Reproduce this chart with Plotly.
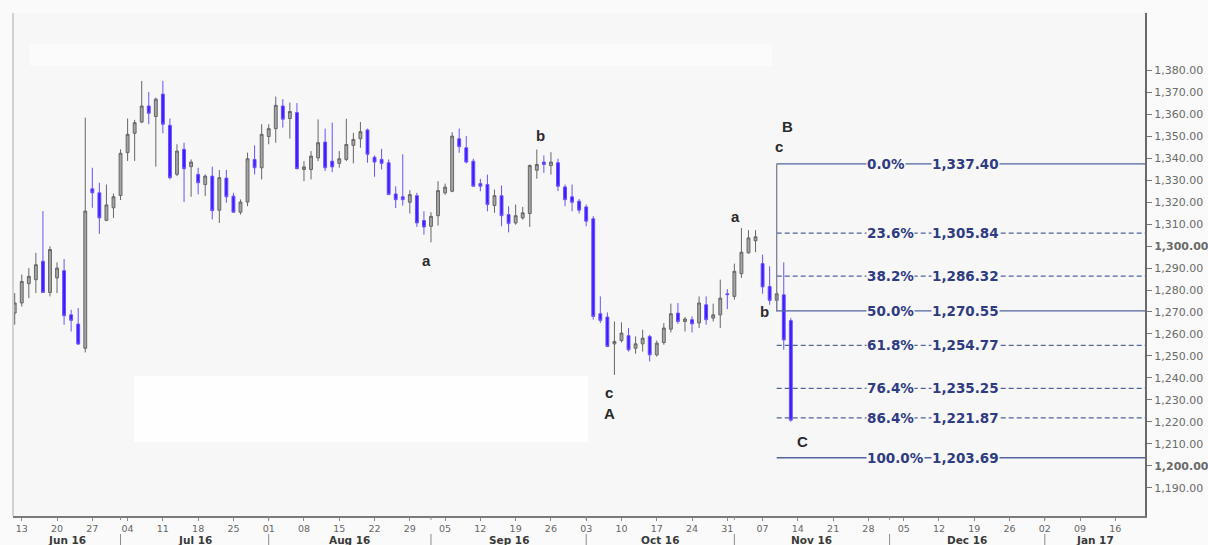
import math
import pandas as pd
import plotly.graph_objects as go

# ---------------- data ----------------
START = "2016-06-10"
opens = [1269.5, 1274.1, 1282.9, 1284.7, 1293.1, 1278.9, 1285.5, 1288.8, 1268.7, 1264.5,
         1253.5, 1326.0, 1324.2, 1311.7, 1317.4, 1323.0, 1342.5, 1351.3, 1356.4, 1363.7,
         1358.9, 1369.1, 1354.9, 1332.6, 1344.0, 1336.1, 1332.6, 1328.0, 1331.8, 1316.3,
         1330.9, 1322.7, 1315.4, 1320.0, 1339.4, 1335.6, 1349.8, 1353.4, 1363.7, 1358.0,
         1360.7, 1334.8, 1334.8, 1340.1, 1347.3, 1338.6, 1337.6, 1339.4, 1345.8, 1348.8,
         1352.8, 1340.4, 1339.4, 1337.9, 1323.7, 1322.4, 1319.9, 1322.9, 1311.6, 1309.0,
         1313.8, 1324.2, 1324.9, 1348.8, 1344.7, 1338.6, 1328.4, 1328.0, 1318.4, 1322.9,
         1314.3, 1310.5, 1312.8, 1314.8, 1334.5, 1338.2, 1336.6, 1337.9, 1326.9, 1322.4,
         1320.4, 1317.8, 1312.4, 1269.2, 1267.7, 1255.5, 1257.0, 1259.2, 1253.5, 1255.5,
         1258.9, 1250.5, 1256.1, 1262.2, 1269.5, 1265.7, 1266.5, 1265.0, 1273.3, 1267.2,
         1268.7, 1278.3, 1277.1, 1287.4, 1296.9, 1302.4, 1292.0, 1281.6, 1275.3, 1277.8,
         1266.1]
highs = [1278.6, 1287.0, 1290.0, 1296.9, 1315.9, 1299.9, 1292.6, 1294.1, 1271.0, 1271.8,
         1358.4, 1335.6, 1328.8, 1328.0, 1323.9, 1344.0, 1358.0, 1357.4, 1375.1, 1370.1,
         1367.5, 1375.1, 1358.0, 1346.3, 1347.0, 1339.4, 1335.6, 1332.6, 1336.1, 1334.6,
         1334.6, 1324.2, 1321.2, 1342.5, 1345.8, 1355.4, 1355.4, 1368.0, 1366.8, 1365.3,
         1365.0, 1338.6, 1343.2, 1357.6, 1353.4, 1356.1, 1343.2, 1357.9, 1351.5, 1356.4,
         1353.4, 1341.2, 1344.2, 1339.4, 1327.2, 1341.7, 1325.4, 1324.2, 1315.8, 1315.4,
         1329.5, 1328.4, 1351.8, 1353.4, 1350.0, 1339.7, 1330.6, 1332.5, 1325.7, 1327.5,
         1318.1, 1318.9, 1317.8, 1337.1, 1343.9, 1341.2, 1342.7, 1339.7, 1328.0, 1328.0,
         1321.4, 1318.9, 1313.6, 1277.1, 1269.8, 1265.7, 1265.3, 1262.7, 1258.9, 1261.9,
         1259.6, 1257.0, 1264.9, 1273.8, 1274.1, 1267.7, 1268.0, 1277.1, 1277.1, 1273.8,
         1284.7, 1280.4, 1292.0, 1308.2, 1307.2, 1307.2, 1296.1, 1290.8, 1279.4, 1292.6,
         1267.2]
lows = [1264.2, 1272.5, 1276.3, 1278.6, 1278.6, 1277.1, 1278.6, 1264.2, 1261.1, 1255.1,
        1251.6, 1317.4, 1305.5, 1311.3, 1312.8, 1320.9, 1338.7, 1338.7, 1355.9, 1355.4,
        1336.1, 1351.3, 1330.3, 1331.8, 1320.0, 1322.4, 1323.5, 1322.7, 1312.1, 1310.5,
        1319.7, 1315.1, 1314.3, 1318.1, 1332.6, 1330.3, 1346.3, 1347.0, 1353.9, 1348.9,
        1334.9, 1329.5, 1330.3, 1338.6, 1334.1, 1333.6, 1335.6, 1338.6, 1337.6, 1344.7,
        1337.9, 1331.5, 1334.8, 1323.4, 1317.3, 1318.4, 1314.8, 1308.7, 1305.2, 1301.7,
        1309.3, 1323.4, 1324.5, 1342.4, 1337.6, 1327.2, 1324.9, 1315.8, 1315.1, 1309.0,
        1306.2, 1309.7, 1312.0, 1308.7, 1330.6, 1333.3, 1332.5, 1325.0, 1318.1, 1315.8,
        1314.8, 1309.0, 1266.5, 1265.0, 1254.0, 1241.4, 1256.1, 1252.0, 1251.0, 1252.0,
        1247.5, 1249.7, 1255.1, 1260.7, 1264.6, 1261.1, 1260.7, 1262.7, 1264.2, 1265.7,
        1262.7, 1271.3, 1275.6, 1285.5, 1296.6, 1297.2, 1278.3, 1273.3, 1270.2, 1252.8,
        1220.1]
closes = [1274.1, 1283.9, 1286.2, 1291.5, 1278.9, 1298.4, 1290.0, 1268.3, 1266.2, 1255.4,
          1315.9, 1324.2, 1312.8, 1318.7, 1322.4, 1342.2, 1350.8, 1356.1, 1363.7, 1360.4,
          1366.8, 1355.4, 1331.1, 1343.2, 1335.2, 1338.2, 1328.8, 1331.8, 1316.1, 1331.1,
          1322.4, 1315.4, 1320.0, 1339.7, 1335.6, 1350.8, 1353.4, 1364.0, 1357.7, 1361.2,
          1335.2, 1336.0, 1340.9, 1347.0, 1335.6, 1336.0, 1339.7, 1346.2, 1348.5, 1352.0,
          1341.7, 1338.2, 1337.6, 1323.4, 1321.1, 1321.1, 1323.4, 1310.5, 1308.7, 1313.5,
          1325.2, 1326.8, 1350.0, 1345.2, 1338.2, 1327.2, 1327.2, 1318.9, 1322.9, 1313.8,
          1310.2, 1313.8, 1315.1, 1336.6, 1337.1, 1337.1, 1338.2, 1327.2, 1321.1, 1319.9,
          1316.3, 1311.3, 1268.0, 1266.2, 1254.3, 1256.6, 1260.4, 1252.8, 1255.5, 1258.1,
          1250.5, 1255.8, 1262.7, 1269.2, 1265.7, 1266.8, 1264.6, 1274.1, 1266.5, 1268.7,
          1276.3, 1277.9, 1288.5, 1297.2, 1303.7, 1304.2, 1281.4, 1275.3, 1278.3, 1257.3,
          1220.8]

fib_high = 1337.40
fib_low = 1203.69
fib_anchor_date = "2016-11-09"
fib_ratios = [0.0, 0.236, 0.382, 0.5, 0.618, 0.764, 0.864, 1.0]
fib_solid = [True, False, False, True, False, False, False, True]

wave_text = ["a", "b", "c", "A", "a", "b", "B", "c", "C"]
wave_bar = [58.3, 74.5, 84.2, 84.3, 102.2, 106.3, 109.6, 108.3, 111.6]   # position in trading days
wave_price = [1293.2, 1350.5, 1233.6, 1224.0, 1313.6, 1270.0, 1354.2, 1345.5, 1211.3]

y_ticks = list(range(1190, 1390, 10))
x_end_date = "2017-01-20 04:48"

# ---------------- helpers ----------------
dates = pd.bdate_range(START, periods=len(opens))
all_bdays = pd.bdate_range(START, periods=200)


def bar_to_date(f):
    i = int(math.floor(f))
    return all_bdays[i] + pd.Timedelta(days=f - i)


x_start = dates[0] - pd.Timedelta(hours=5.8)
x_end = pd.Timestamp(x_end_date)

fig = go.Figure()
fig.add_trace(go.Candlestick(
    x=dates, open=opens, high=highs, low=lows, close=closes,
    increasing=dict(line=dict(color="#666666", width=1), fillcolor="#a4a4a4"),
    decreasing=dict(line=dict(color="#6a52ff", width=1), fillcolor="#3a1cff"),
    whiskerwidth=0, showlegend=False, hoverinfo="skip",
))

shapes = []
annotations = []

PLOT_L, PLOT_R, PLOT_T, PLOT_B = 13, 1145, 13, 516
PW, PH = PLOT_R - PLOT_L, PLOT_B - PLOT_T


def px(xp):
    return (xp - PLOT_L) / PW


def py(yp):
    return (PLOT_B - yp) / PH


# background artefacts (whitish patches)
shapes.append(dict(type="rect", xref="paper", yref="paper", x0=px(30), x1=px(772),
                   y0=py(66), y1=py(44), fillcolor="#fbfbfb", line_width=0, layer="below"))
shapes.append(dict(type="rect", xref="paper", yref="paper", x0=px(134), x1=px(588),
                   y0=py(442), y1=py(376), fillcolor="#fefefe", line_width=0, layer="below"))

# left border
shapes.append(dict(type="line", xref="paper", yref="paper", x0=0, x1=0, y0=0, y1=1,
                   line=dict(color="#d2d2d2", width=2)))

# fibonacci lines
span = fib_high - fib_low
levels = [fib_high - r * span for r in fib_ratios]
for r, lv, solid in zip(fib_ratios, levels, fib_solid):
    shapes.append(dict(type="line", xref="x", yref="y", x0=fib_anchor_date, x1=x_end,
                       y0=lv, y1=lv,
                       line=dict(color="#5363a0", width=1.3, dash="solid" if solid else "5px,3px")))
    annotations.append(dict(xref="paper", yref="y", x=px(866), y=lv, xanchor="left",
                            yanchor="middle", text="<b>%.1f%%</b>" % (r * 100),
                            showarrow=False, bgcolor="#f8f8f8", borderpad=0,
                            font=dict(family="DejaVu Sans", size=13.5, color="#2f3c84")))
    annotations.append(dict(xref="paper", yref="y", x=px(931), y=lv, xanchor="left",
                            yanchor="middle", text="<b>{:,.2f}</b>".format(lv),
                            showarrow=False, bgcolor="#f8f8f8", borderpad=0,
                            font=dict(family="DejaVu Sans", size=13.5, color="#2f3c84")))
shapes.append(dict(type="line", xref="x", yref="y", x0=fib_anchor_date, x1=fib_anchor_date,
                   y0=fib_high, y1=levels[3], line=dict(color="#7c8098", width=1.3)))

# wave labels
for t, b, p in zip(wave_text, wave_bar, wave_price):
    annotations.append(dict(xref="x", yref="y", x=bar_to_date(b), y=p, text="<b>%s</b>" % t,
                            showarrow=False, xanchor="center", yanchor="middle",
                            font=dict(family="Liberation Sans", size=15, color="#2a2a2a")))

# x ticks (Mondays) and month labels
mondays = pd.date_range("2016-06-13", "2017-01-16", freq="W-MON")
tick_text = [d.strftime("%d") for d in mondays]

month_first = []
for d in all_bdays:
    if d > dates[0] and (d.month != (d - pd.tseries.offsets.BDay(1)).month) and d <= x_end:
        month_first.append(d)
bar_of = {d: i for i, d in enumerate(all_bdays)}
end_bar = bar_of[pd.Timestamp("2017-01-20")] + 0.2
bounds = [-0.24] + [bar_of[d] for d in month_first] + [end_bar]
month_names = [dates[0].strftime("%b %y")] + [d.strftime("%b %y") for d in month_first]
for i, name in enumerate(month_names):
    mid = (bounds[i] + bounds[i + 1]) / 2
    annotations.append(dict(xref="x", yref="paper", x=bar_to_date(mid), y=py(539.5),
                            text="<b>%s</b>" % name, showarrow=False, yanchor="middle",
                            borderpad=0,
                            font=dict(family="DejaVu Sans", size=10.5, color="#3a3a3a")))
for d in month_first:
    shapes.append(dict(type="line", xref="x", yref="paper", x0=d, x1=d, y0=py(516), y1=py(520),
                       line=dict(color="#8a8a8a", width=1)))
    shapes.append(dict(type="line", xref="x", yref="paper", x0=d, x1=d, y0=py(534), y1=py(546),
                       line=dict(color="#8a8a8a", width=1)))

y_text = []
for v in y_ticks:
    s = "{:,.2f}".format(v)
    y_text.append("<b>%s</b>" % s if v % 100 == 0 else s)

fig.update_layout(
    width=1208, height=545,
    margin=dict(l=PLOT_L, r=1208 - PLOT_R, t=PLOT_T, b=545 - PLOT_B, autoexpand=False),
    paper_bgcolor="#fafafa", plot_bgcolor="#f7f7f7",
    boxgap=0.42,
    shapes=shapes, annotations=annotations,
    showlegend=False,
    xaxis=dict(
        type="date", range=[x_start, x_end],
        rangebreaks=[dict(bounds=["sat", "mon"])],
        rangeslider=dict(visible=False),
        tickvals=list(mondays), ticktext=tick_text,
        ticks="outside", ticklen=3, tickcolor="#8a8a8a",
        tickfont=dict(family="DejaVu Sans", size=9.5, color="#666666"),
        showgrid=False, zeroline=False,
        showline=True, linecolor="#7a7a7a", linewidth=1.5,
    ),
    yaxis=dict(
        side="right", range=[1177.2, 1406.0],
        tickvals=y_ticks, ticktext=y_text,
        ticks="outside", ticklen=5, tickcolor="#777777",
        tickfont=dict(family="DejaVu Sans", size=11, color="#6a6a6a"),
        showgrid=False, zeroline=False,
        showline=True, linecolor="#6a6a6a", linewidth=2,
    ),
)

fig.write_html("out.html", config={"displayModeBar": False},
               post_script="document.body.style.margin='0';document.body.style.overflow='hidden';")
